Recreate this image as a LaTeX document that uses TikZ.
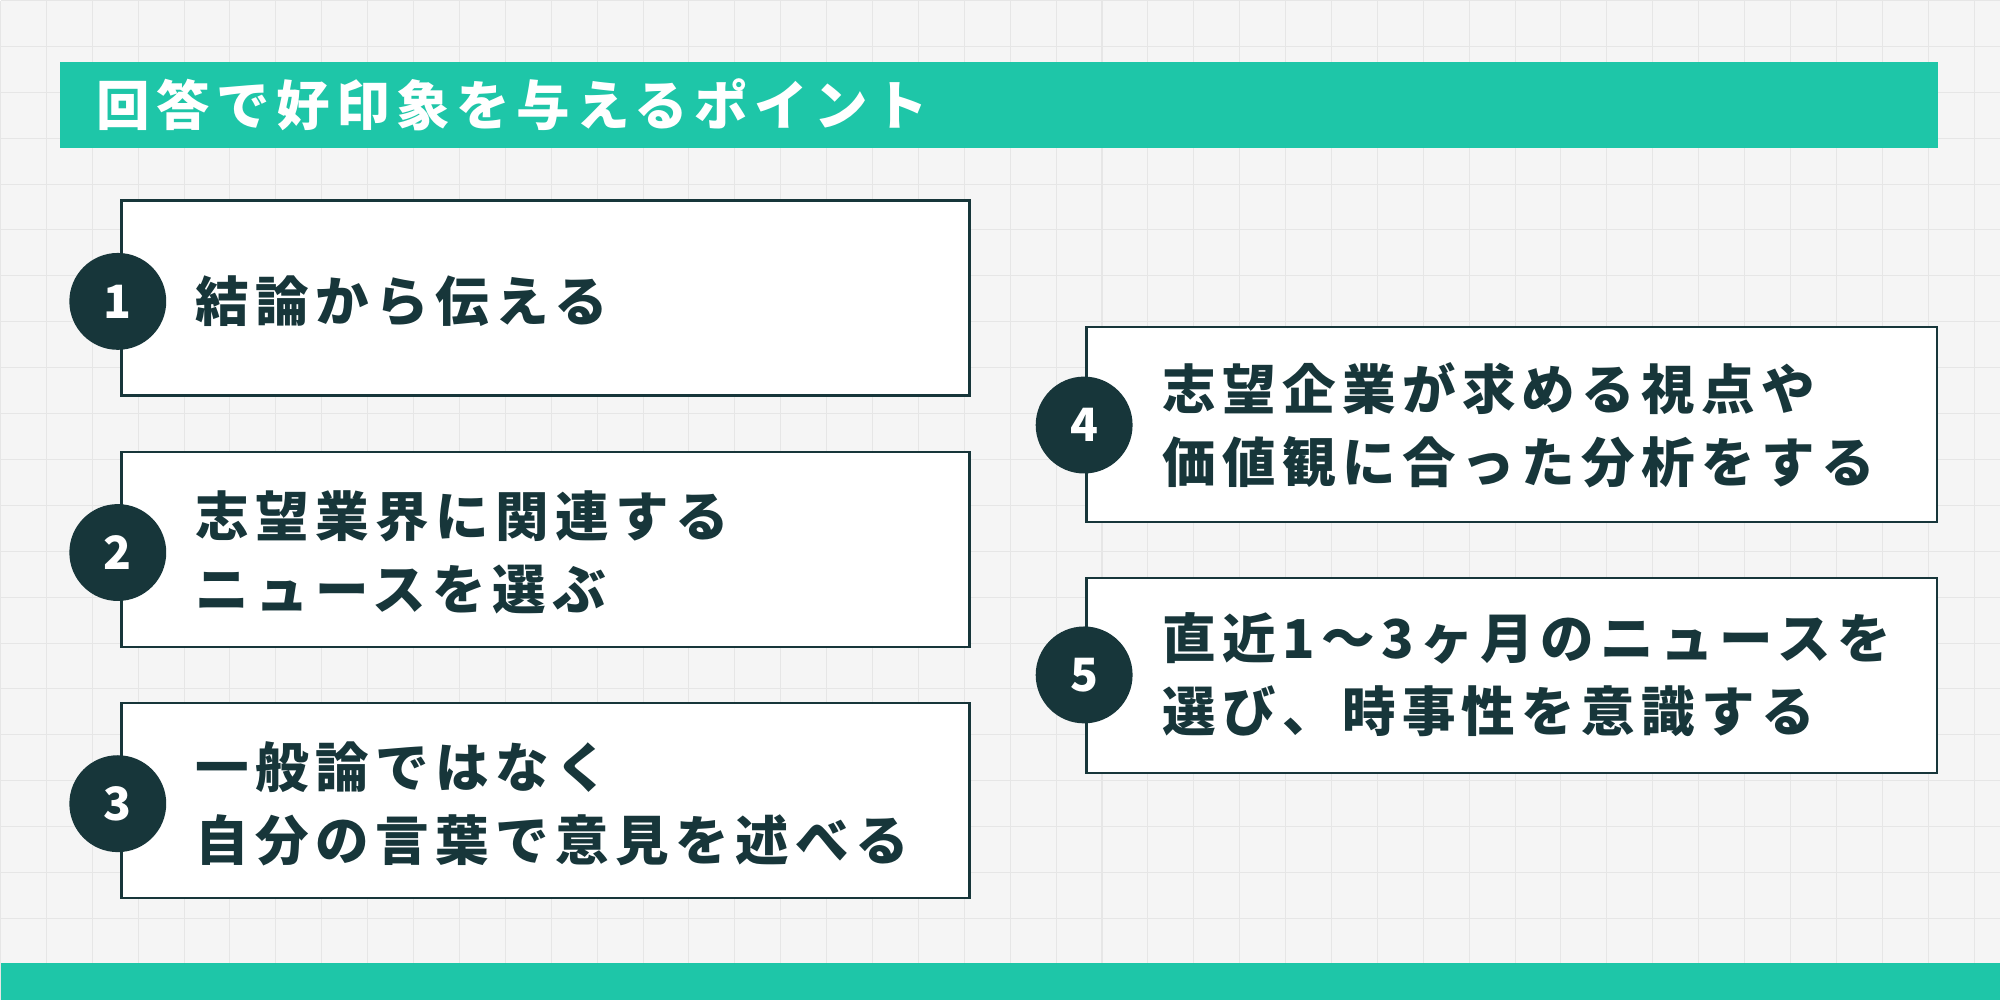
\documentclass[tikz,border=0pt]{standalone}
\usepackage{fontspec}
\newfontfamily\cjk{Noto Sans CJK JP}[LetterSpace=12]
\newfontfamily\cjkn{Noto Sans CJK JP}
\definecolor{teal}{HTML}{1EC6A8}
\definecolor{dark}{HTML}{17363A}
\definecolor{bg}{HTML}{F5F5F5}
\definecolor{gridc}{HTML}{E6E6E6}
\begin{document}
\begin{tikzpicture}[x=1pt,y=-1pt,
  card/.style={draw=dark,line width=2pt,fill=white},
  num/.style={circle,fill=dark,minimum size=76pt,inner sep=0pt,text=white,font=\cjkn\bfseries\fontsize{36}{36}\selectfont},
  lbl/.style={anchor=west,align=left,text=dark,inner sep=0pt,font=\cjk\bfseries\fontsize{42}{57}\selectfont}]
\fill[bg] (0,0) rectangle (1568,784);
\foreach \x in {0,36,...,1568} \draw[gridc,line width=0.8pt] (\x,0) -- (\x,784);
\foreach \y in {0,36,...,784} \draw[gridc,line width=0.8pt] (0,\y) -- (1568,\y);
\useasboundingbox (0,0) rectangle (1568,784);
\fill[teal] (47,48) rectangle (1520,116);
\node[anchor=west,text=white,inner sep=0pt,font=\cjk\bfseries\fontsize{42}{42}\selectfont] (title) at (75,82) {回答で好印象を与えるポイント};
\fill[teal] (0,755) rectangle (1568,784);
\draw[card] (95,157) rectangle (760,310);
\draw[card] (95,354) rectangle (760,507);
\draw[card] (95,551) rectangle (760,704);
\draw[card] (852,256) rectangle (1519,409);
\draw[card] (852,453) rectangle (1519,606);
\node[num] (n1) at (92,236) {1};
\node[num] (n2) at (92,433) {2};
\node[num] (n3) at (92,630) {3};
\node[num] (n4) at (850,333) {4};
\node[num] (n5) at (850,529) {5};
\node[lbl] (t1) at (153,236) {結論から伝える};
\node[lbl] (t2) at (153,433) {志望業界に関連する\\ニュースを選ぶ};
\node[lbl] (t3) at (153,630) {一般論ではなく\\自分の言葉で意見を述べる};
\node[lbl] (t4) at (911,333) {志望企業が求める視点や\\価値観に合った分析をする};
\node[lbl] (t5) at (911,529) {直近1〜3ヶ月のニュースを\\選び、時事性を意識する};
\end{tikzpicture}
\end{document}
